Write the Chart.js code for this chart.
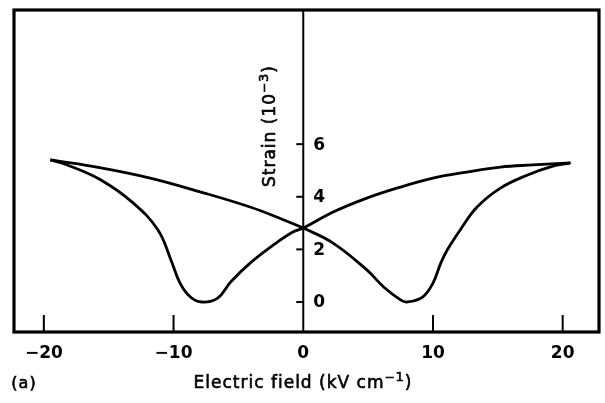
<!DOCTYPE html>
<html>
<head>
<meta charset="utf-8">
<script src="https://cdn.jsdelivr.net/npm/chart.js@4/dist/chart.umd.min.js"></script>
<style>
  html, body { margin: 0; padding: 0; background: #fff; }
  #wrap { width: 605px; height: 403px; position: relative; }
</style>
</head>
<body>
<div id="wrap"><canvas id="strainChart"></canvas></div>
<script>
// Butterfly loop: strain vs electric field
// branch swept from -E to +E (upper left, then dip on the right)
const fieldUp = [-19.5, -15.6, -11.8, -7.9, -4.1, -1.5, 0, 2.3, 4.9, 6.2, 7.5, 8.0, 9.2, 10.0, 10.6, 11.1, 12.1, 13.4, 15.2, 17.3, 19.0, 20.6]
const strainUp = [5.40, 5.10, 4.71, 4.18, 3.61, 3.12, 2.81, 2.24, 1.22, 0.57, 0.08, 0.0, 0.19, 0.72, 1.48, 1.98, 2.74, 3.61, 4.33, 4.83, 5.13, 5.29]

// branch swept from +E back to -E (dip on the left, upper right)
const fieldDown = [-19.5, -18.2, -15.6, -13.1, -11.2, -10.2, -9.5, -8.7, -7.8, -6.6, -5.6, -4.1, -2.3, -0.8, 0, 2.3, 4.9, 7.5, 10.0, 12.6, 15.2, 17.7, 20.6]
const strainDown = [5.40, 5.21, 4.64, 3.76, 2.74, 1.60, 0.72, 0.19, 0.0, 0.15, 0.76, 1.48, 2.17, 2.66, 2.81, 3.42, 3.95, 4.37, 4.71, 4.94, 5.13, 5.21, 5.29]

const fieldTicks = [-20, -10, 0, 10, 20]
const strainTicks = [0, 2, 4, 6]

const FONT = 'DejaVu Sans, sans-serif'
const INK = '#000'

const toPoints = (xs, ys) => xs.map((x, i) => ({ x, y: ys[i] }))

// text with raised exponent pieces, centred on (cx, cy); a thin stroke thickens the glyphs
function drawRich(ctx, parts, cx, cy) {
  const widths = parts.map(p => {
    ctx.font = `${p.size}px ${FONT}`
    return ctx.measureText(p.t).width
  })
  let x = cx - widths.reduce((s, w) => s + w, 0) / 2
  ctx.lineWidth = 0.6
  parts.forEach((p, i) => {
    ctx.font = `${p.size}px ${FONT}`
    ctx.fillText(p.t, x, cy + (p.dy || 0))
    ctx.strokeText(p.t, x, cy + (p.dy || 0))
    x += widths[i]
  })
}

// frame, centre axis, inner ticks and titles
const framePlugin = {
  id: 'frame',
  afterDraw(chart) {
    const { ctx, chartArea: a, scales: { x, y } } = chart
    ctx.save()
    ctx.strokeStyle = INK
    ctx.fillStyle = INK

    // outer box
    ctx.lineWidth = 3.2
    ctx.strokeRect(a.left, a.top, a.right - a.left, a.bottom - a.top)

    // vertical axis at E = 0
    const x0 = x.getPixelForValue(0)
    ctx.lineWidth = 2
    ctx.beginPath()
    ctx.moveTo(x0, a.top)
    ctx.lineTo(x0, a.bottom)
    ctx.stroke()

    // strain ticks + labels
    ctx.font = `bold 17px ${FONT}`
    ctx.textAlign = 'left'
    ctx.textBaseline = 'middle'
    strainTicks.forEach(v => {
      const py = y.getPixelForValue(v)
      ctx.beginPath()
      ctx.moveTo(x0 - 7, py)
      ctx.lineTo(x0, py)
      ctx.stroke()
      ctx.fillText(String(v), x0 + 10, py + 1)
    })

    // field ticks pointing up from the bottom edge
    fieldTicks.forEach(v => {
      if (v === 0) return
      const px = x.getPixelForValue(v)
      ctx.beginPath()
      ctx.moveTo(px, a.bottom)
      ctx.lineTo(px, a.bottom - 17)
      ctx.stroke()
    })

    ctx.letterSpacing = '1px'
    ctx.textAlign = 'left'
    ctx.textBaseline = 'middle'

    // y title, rotated
    ctx.save()
    ctx.translate(271, 126)
    ctx.rotate(-Math.PI / 2)
    drawRich(ctx, [
      { t: 'Strain (10', size: 17 },
      { t: '\u2212', size: 12, dy: -6 },
      { t: '3', size: 13, dy: -6 },
      { t: ')', size: 17 }
    ], 0, 0)
    ctx.restore()

    // x title and panel tag
    drawRich(ctx, [
      { t: 'Electric field (kV cm', size: 17 },
      { t: '\u2212', size: 12, dy: -6 },
      { t: '1', size: 13, dy: -6 },
      { t: ')', size: 17 }
    ], 303, 384)
    drawRich(ctx, [{ t: '(a)', size: 16 }], 24, 384)
    ctx.restore()
  }
}

const lineStyle = {
  borderColor: INK,
  borderWidth: 2.8,
  pointRadius: 0,
  showLine: true,
  fill: false,
  tension: 0.4
}

new Chart(document.getElementById('strainChart'), {
  type: 'scatter',
  data: {
    datasets: [
      { label: 'up', data: toPoints(fieldUp, strainUp), ...lineStyle },
      { label: 'down', data: toPoints(fieldDown, strainDown), ...lineStyle }
    ]
  },
  options: {
    responsive: true,
    maintainAspectRatio: false,
    animation: false,
    layout: { padding: { left: 14, right: 6, top: 10, bottom: 0 } },
    plugins: {
      legend: { display: false },
      tooltip: { enabled: false }
    },
    scales: {
      x: {
        type: 'linear',
        min: -22.3,
        max: 22.8,
        afterBuildTicks: scale => { scale.ticks = fieldTicks.map(value => ({ value })) },
        afterFit: scale => { scale.height = 71 },
        grid: { display: false, drawTicks: false },
        border: { display: false },
        ticks: {
          color: INK,
          padding: 11,
          maxRotation: 0,
          font: { family: FONT, size: 17, weight: 'bold' },
          callback: v => (v < 0 ? '\u2212' + Math.abs(v) : String(v))
        }
      },
      y: {
        type: 'linear',
        display: false,
        min: -1.14,
        max: 11.1
      }
    }
  },
  plugins: [framePlugin]
})
</script>
</body>
</html>
